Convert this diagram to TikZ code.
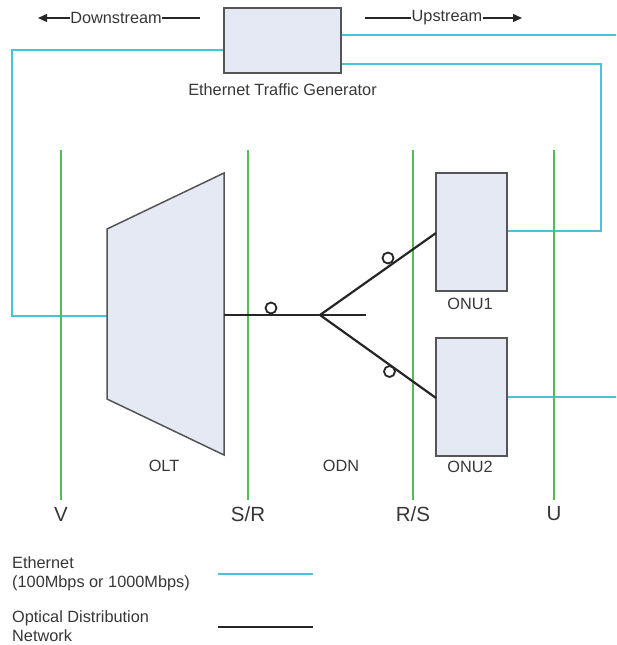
\documentclass[tikz,border=0pt]{standalone}
\usepackage{fontspec}
\setmainfont{Liberation Sans}
\usetikzlibrary{arrows.meta}
\definecolor{eth}{RGB}{72,196,218}
\definecolor{ref}{RGB}{80,190,80}
\definecolor{boxfill}{RGB}{228,233,244}
\definecolor{boxline}{RGB}{85,85,85}
\definecolor{txt}{RGB}{55,55,55}
\tikzset{
  ethline/.style={draw=eth,line width=2.5pt},
  odnline/.style={draw=black!85,line width=2.2pt},
  refline/.style={draw=ref,line width=2.2pt},
  devbox/.style={draw=boxline,fill=boxfill,line width=1.5pt,rectangle,inner sep=0pt},
  lbl/.style={text=txt,font=\fontsize{16.3}{19}\selectfont,inner sep=0pt},
  reflbl/.style={text=txt,font=\fontsize{20.5}{24}\selectfont,inner sep=0pt},
  conn/.style={draw=black!85,line width=1.8pt,circle,minimum size=11pt,inner sep=0pt},
  dirline/.style={draw=black!85,line width=1.4pt}
}
\begin{document}
\begin{tikzpicture}[x=1pt,y=-1pt]
\useasboundingbox (0,0) rectangle (616,645);
% reference points
\foreach \n/\x/\t in {V/61/V, SR/248/{S/R}, RS/413/{R/S}, U/554/U}{
  \coordinate (\n top) at (\x,150);
  \coordinate (\n bot) at (\x,500);
  \node[reflbl] (\n lbl) at (\x,514) {\t};
}
% generator
\node[devbox,minimum width=117pt,minimum height=65pt] (gen) at (282.5,40.5) {};
\node[lbl] (genlbl) at (282.5,90) {Ethernet Traffic Generator};
% direction labels
\node[lbl] (down) at (116,18) {Downstream};
\node[lbl] (up) at (447,18) {Upstream};
\coordinate (downA) at (38,18);
\coordinate (downB) at (200,18);
\coordinate (upA) at (365,18);
\coordinate (upB) at (522,18);
\draw[dirline,-{Triangle[length=9pt,width=8pt]}] (down.west) -- (downA);
\draw[dirline] (down.east) -- (downB);
\draw[dirline] (upA) -- (up.west);
\draw[dirline,-{Triangle[length=9pt,width=8pt]}] (up.east) -- (upB);
% Ethernet
\coordinate (oltL) at (107,316);
\coordinate (eL1) at (12,50);
\coordinate (eL2) at (12,316);
\draw[ethline] (gen.west |- eL1) -- (eL1) -- (eL2) -- (oltL);
\coordinate (eR0) at (616,35);
\draw[ethline] (gen.east |- eR0) -- (eR0);
\coordinate (eR1) at (601,64);
\coordinate (eR2) at (601,231);
\coordinate (onu1out) at (507,231);
\draw[ethline] (gen.east |- eR1) -- (eR1) -- (eR2) -- (onu1out);
\coordinate (onu2out) at (507,397);
\coordinate (eR3) at (616,397);
\draw[ethline] (onu2out) -- (eR3);
% reference lines
\foreach \n in {V,SR,RS,U}{\draw[refline] (\n top) -- (\n bot);}
% OLT
\coordinate (oltR) at (224,315);
\draw[draw=boxline,fill=boxfill,line width=1.5pt] (107,229) -- (224,173) -- (224,455) -- (107,399) -- cycle;
\node[lbl] (oltlbl) at (164,466) {OLT};
% ONUs
\node[devbox,minimum width=71pt,minimum height=118pt] (onu1) at (471.5,232) {};
\node[devbox,minimum width=71pt,minimum height=118pt] (onu2) at (471.5,397) {};
\node[lbl] (onu1lbl) at (470,304) {ONU1};
\node[lbl] (onu2lbl) at (470,467) {ONU2};
\node[lbl] (odnlbl) at (341,466) {ODN};
% ODN
\coordinate (split) at (320,315);
\coordinate (stub) at (366,315);
\coordinate (onu1in) at (436,233);
\coordinate (onu2in) at (436,398);
\draw[odnline] (oltR) -- (split) -- (stub);
\draw[odnline] (split) -- (onu1in);
\draw[odnline] (split) -- (onu2in);
\node[conn] (c0) at (271,308) {};
\node[conn] (c1) at (388,258) {};
\node[conn] (c2) at (389.5,371.5) {};
% legend
\node[lbl,anchor=west,align=left] (leg1) at (12,574) {Ethernet\\(100Mbps or 1000Mbps)};
\node[lbl,anchor=west,align=left] (leg2) at (12,626) {Optical Distribution\\Network};
\coordinate (l1a) at (218,574);
\coordinate (l1b) at (313,574);
\coordinate (l2a) at (218,627);
\coordinate (l2b) at (313,627);
\draw[ethline] (l1a) -- (l1b);
\draw[odnline] (l2a) -- (l2b);
\end{tikzpicture}
\end{document}
